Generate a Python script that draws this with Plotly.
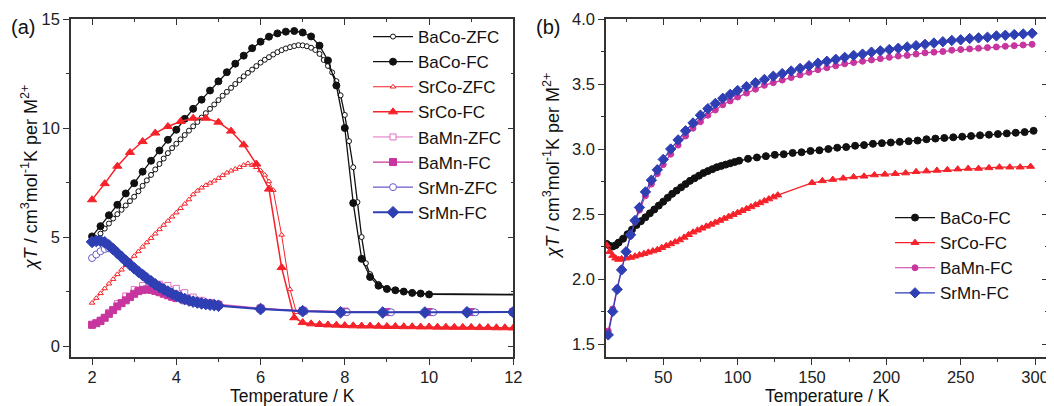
import plotly.graph_objects as go

# ---------------- Panel (a): low temperature ZFC/FC ----------------
baco_fc_T = [2.0, 2.2, 2.4, 2.6, 2.8, 3.0, 3.2, 3.4, 3.6, 3.8, 4.0, 4.2, 4.4, 4.6, 4.8, 5.0,
             5.2, 5.4, 5.6, 5.8, 6.0, 6.2, 6.4, 6.6, 6.8, 7.0, 7.2, 7.4, 7.6, 7.8, 8.0, 8.2,
             8.4, 8.6, 8.8, 9.0, 9.2, 9.4, 9.6, 9.8, 10.0, 14.0]
baco_fc_y = [5.03, 5.5, 6.0, 6.48, 7.0, 7.47, 8.0, 8.5, 8.97, 9.46, 9.92, 10.42, 10.88, 11.3, 11.72, 12.14,
             12.56, 12.95, 13.32, 13.66, 13.96, 14.19, 14.34, 14.42, 14.45, 14.38, 14.2, 13.78, 13.1, 11.95, 10.0, 6.56,
             4.0, 3.17, 2.77, 2.62, 2.56, 2.5, 2.44, 2.41, 2.37, 2.33]

baco_zfc_T = [2.0, 2.1, 2.2, 2.3, 2.4, 2.5, 2.6, 2.7, 2.8, 2.9, 3.0, 3.1, 3.2, 3.3, 3.4, 3.5,
              3.6, 3.7, 3.8, 3.9, 4.0, 4.1, 4.2, 4.3, 4.4, 4.5, 4.6, 4.7, 4.8, 4.9, 5.0, 5.1,
              5.2, 5.3, 5.4, 5.5, 5.6, 5.7, 5.8, 5.9, 6.0, 6.1, 6.2, 6.3, 6.4, 6.5, 6.6, 6.7,
              6.8, 6.9, 7.0, 7.1, 7.2, 7.3, 7.4, 7.5, 7.6, 7.7, 7.8, 7.9, 8.0, 8.1, 8.2, 8.3,
              8.4, 8.5, 8.6, 8.8, 9.0, 9.2, 9.4, 9.6, 9.8, 10.0, 14.0]
baco_zfc_y = [4.7, 4.93, 5.16, 5.39, 5.62, 5.85, 6.05, 6.25, 6.45, 6.65, 6.85, 7.1, 7.35, 7.6, 7.85, 8.1,
              8.35, 8.6, 8.85, 9.08, 9.28, 9.48, 9.68, 9.88, 10.08, 10.28, 10.48, 10.68, 10.88, 11.08, 11.28, 11.48,
              11.66, 11.84, 12.02, 12.2, 12.37, 12.53, 12.68, 12.84, 13.0, 13.13, 13.25, 13.37, 13.48, 13.57, 13.65, 13.71,
              13.76, 13.8, 13.79, 13.75, 13.68, 13.58, 13.4, 13.12, 12.85, 12.55, 12.15, 11.5, 10.6, 9.4, 8.2, 6.6,
              5.0, 3.8, 3.3, 2.85, 2.65, 2.56, 2.5, 2.45, 2.42, 2.4, 2.35]

srco_fc_T = [2.0, 2.3, 2.6, 2.9, 3.2, 3.5, 3.8, 4.1, 4.4, 4.7, 5.0, 5.3, 5.6, 5.9, 6.2, 6.5,
             6.8, 7.0, 7.2, 7.4, 7.6, 7.8, 8.0, 8.2, 8.4, 8.6, 8.8, 9.0, 9.2, 9.4, 9.6, 9.8,
             10.0, 10.2, 10.4, 10.6, 10.8, 11.0, 11.2, 11.4, 11.6, 11.8, 12.0]
srco_fc_y = [6.71, 7.45, 8.25, 8.88, 9.38, 9.77, 10.07, 10.3, 10.45, 10.45, 10.27, 9.86, 9.23, 8.35, 7.2, 3.6,
             1.3, 1.08, 1.02, 0.99, 0.97, 0.96, 0.94, 0.93, 0.92, 0.92, 0.91, 0.9, 0.9, 0.89, 0.89, 0.88,
             0.88, 0.87, 0.87, 0.86, 0.86, 0.86, 0.85, 0.85, 0.84, 0.84, 0.83]

srco_zfc_T = [2.0, 2.1, 2.2, 2.3, 2.4, 2.5, 2.6, 2.7, 2.8, 2.9, 3.0, 3.1, 3.2, 3.3, 3.4, 3.5,
              3.6, 3.7, 3.8, 3.9, 4.0, 4.1, 4.2, 4.3, 4.4, 4.5, 4.6, 4.7, 4.8, 4.9, 5.0, 5.1,
              5.2, 5.3, 5.4, 5.5, 5.6, 5.7, 5.8, 5.9, 6.0, 6.1, 6.2, 6.3, 6.5, 6.7, 6.85]
srco_zfc_y = [1.98, 2.2, 2.42, 2.64, 2.86, 3.07, 3.29, 3.5, 3.71, 3.92, 4.13, 4.34, 4.55, 4.75, 4.95, 5.15,
              5.35, 5.55, 5.74, 5.93, 6.12, 6.32, 6.52, 6.72, 6.95, 7.12, 7.26, 7.38, 7.48, 7.58, 7.7, 7.83,
              7.95, 8.04, 8.12, 8.2, 8.3, 8.38, 8.3, 8.2, 8.05, 7.85, 7.55, 7.15, 5.1, 2.6, 1.55]

bamn_zfc_T = [2.0, 2.2, 2.4, 2.6, 2.8, 3.0, 3.2, 3.4, 3.6, 3.8, 4.0, 4.2, 4.4, 4.6, 4.8, 5.0,
              6.0, 7.0, 8.0, 9.0, 10.0, 11.0, 12.0]
bamn_zfc_y = [0.95, 1.2, 1.55, 1.95, 2.3, 2.6, 2.78, 2.85, 2.84, 2.78, 2.65, 2.45, 2.25, 2.1, 2.0, 1.93,
              1.74, 1.63, 1.58, 1.56, 1.56, 1.56, 1.57]

bamn_fc_T = [2.0, 2.1, 2.2, 2.3, 2.4, 2.5, 2.6, 2.7, 2.8, 2.9, 3.0, 3.1, 3.2, 3.3, 3.4, 3.5,
             3.6, 3.7, 3.8, 3.9, 4.0, 4.2, 4.4, 4.6, 4.8, 5.0, 6.0, 7.0, 8.0, 9.0, 10.0, 11.0, 12.0]
bamn_fc_y = [0.98, 1.05, 1.15, 1.3, 1.48, 1.65, 1.82, 1.97, 2.1, 2.25, 2.4, 2.52, 2.58, 2.6, 2.58, 2.53,
             2.47, 2.4, 2.33, 2.26, 2.2, 2.1, 2.03, 1.97, 1.92, 1.88, 1.72, 1.62, 1.58, 1.56, 1.56, 1.56, 1.57]

srmn_zfc_T = [2.0, 2.1, 2.2, 2.3, 2.4, 2.5, 2.6, 2.8, 3.0, 3.2, 3.4, 3.6, 3.8, 4.0, 4.2, 4.4,
              4.6, 4.8, 5.0, 6.0, 7.05, 8.05, 9.1, 10.1, 11.1, 12.0]
srmn_zfc_y = [4.04, 4.2, 4.35, 4.45, 4.48, 4.4, 4.25, 3.93, 3.6, 3.3, 3.0, 2.74, 2.53, 2.34, 2.19, 2.07,
              1.98, 1.92, 1.87, 1.71, 1.6, 1.56, 1.55, 1.55, 1.55, 1.56]

srmn_fc_T = [2.0, 2.1, 2.2, 2.3, 2.4, 2.5, 2.6, 2.7, 2.8, 2.9, 3.0, 3.1, 3.2, 3.3, 3.4, 3.5,
             3.6, 3.7, 3.8, 3.9, 4.0, 4.1, 4.2, 4.3, 4.4, 4.5, 4.6, 4.7, 4.8, 4.9, 5.0,
             6.0, 7.0, 7.9, 8.9, 9.9, 10.9, 12.0]
srmn_fc_y = [4.78, 4.82, 4.82, 4.76, 4.62, 4.45, 4.27, 4.09, 3.91, 3.74, 3.57, 3.41, 3.26, 3.11, 2.97, 2.83,
             2.71, 2.6, 2.5, 2.4, 2.31, 2.23, 2.16, 2.09, 2.04, 2.0, 1.96, 1.93, 1.9, 1.88, 1.85,
             1.7, 1.6, 1.55, 1.54, 1.54, 1.55, 1.56]

# ---------------- Panel (b): FC 2-300 K ----------------
r_baco_T = [12, 14, 16, 18, 20, 23, 26, 29, 32, 35, 38, 41, 44, 47, 50, 53, 56, 59, 62, 65, 68, 71,
            74, 77, 80, 83, 86, 89, 92, 95, 98, 101, 107, 113, 119, 125, 131, 137, 143, 149, 155,
            161, 167, 173, 179, 185, 191, 197, 203, 209, 215, 221, 227, 233, 239, 245, 251, 257,
            263, 269, 275, 281, 287, 293, 299]
r_baco_y = [2.27, 2.255, 2.25, 2.26, 2.28, 2.31, 2.345, 2.38, 2.415, 2.445, 2.475, 2.505, 2.535, 2.565,
            2.595, 2.625, 2.655, 2.68, 2.705, 2.73, 2.755, 2.775, 2.795, 2.815, 2.83, 2.845, 2.86, 2.87,
            2.88, 2.89, 2.9, 2.91, 2.925, 2.935, 2.945, 2.955, 2.96, 2.97, 2.975, 2.985, 2.99, 3.0,
            3.01, 3.015, 3.025, 3.03, 3.04, 3.045, 3.05, 3.055, 3.06, 3.065, 3.075, 3.08, 3.085, 3.09,
            3.095, 3.1, 3.105, 3.11, 3.115, 3.12, 3.125, 3.13, 3.14]

r_srco_T = [12, 14, 16, 18, 20, 22, 25, 28, 31, 34, 37, 40, 43, 46, 49, 52, 55, 58, 61, 64, 67, 70,
            73, 76, 79, 82, 85, 88, 91, 94, 97, 100, 103, 106, 109, 112, 115, 118, 121, 124, 127,
            150, 157, 164, 171, 178, 185, 192, 199, 206, 213, 220, 227, 234, 241, 248, 255, 262,
            269, 276, 283, 290, 297]
r_srco_y = [2.26, 2.21, 2.18, 2.16, 2.15, 2.155, 2.16, 2.165, 2.175, 2.185, 2.195, 2.205, 2.215, 2.225,
            2.24, 2.255, 2.27, 2.285, 2.3, 2.32, 2.34, 2.36, 2.375, 2.39, 2.405, 2.42, 2.435, 2.45,
            2.465, 2.48, 2.495, 2.51, 2.525, 2.54, 2.555, 2.57, 2.585, 2.6, 2.615, 2.63, 2.645,
            2.74, 2.755, 2.765, 2.775, 2.785, 2.79, 2.8, 2.805, 2.81, 2.815, 2.825, 2.83, 2.835,
            2.84, 2.845, 2.85, 2.85, 2.855, 2.86, 2.86, 2.86, 2.865]

r_bamn_T = [13, 16, 19, 22, 25, 28, 31, 34, 38, 42, 46, 50, 55, 60, 65, 70, 75, 80, 85, 90, 95, 100,
            106, 112, 118, 124, 130, 136, 142, 148, 154, 160, 166, 172, 178, 184, 190, 196, 202,
            208, 214, 220, 226, 232, 238, 244, 250, 256, 262, 268, 274, 280, 286, 292, 298]
r_bamn_y = [1.6, 1.77, 1.93, 2.08, 2.21, 2.33, 2.44, 2.53, 2.64, 2.73, 2.81, 2.88, 2.96, 3.03, 3.1,
            3.16, 3.21, 3.26, 3.3, 3.34, 3.37, 3.4, 3.43, 3.46, 3.49, 3.51, 3.53, 3.55, 3.57, 3.59,
            3.61, 3.625, 3.64, 3.655, 3.665, 3.675, 3.685, 3.695, 3.705, 3.715, 3.72, 3.73, 3.74,
            3.745, 3.75, 3.76, 3.765, 3.77, 3.775, 3.78, 3.785, 3.79, 3.795, 3.8, 3.805]

r_srmn_T = [13, 16, 19, 22, 25, 28, 31, 34, 38, 42, 46, 50, 55, 60, 65, 70, 75, 80, 85, 90, 95, 100,
            106, 112, 118, 124, 130, 136, 142, 148, 154, 160, 166, 172, 178, 184, 190, 196, 202,
            208, 214, 220, 226, 232, 238, 244, 250, 256, 262, 268, 274, 280, 286, 292, 298]
r_srmn_y = [1.57, 1.75, 1.92, 2.07, 2.21, 2.34, 2.45, 2.55, 2.67, 2.76, 2.84, 2.92, 3.0, 3.07, 3.14,
            3.2, 3.26, 3.31, 3.35, 3.39, 3.42, 3.45, 3.48, 3.51, 3.535, 3.56, 3.58, 3.6, 3.62, 3.64,
            3.66, 3.675, 3.69, 3.705, 3.72, 3.73, 3.745, 3.755, 3.765, 3.775, 3.785, 3.795, 3.805,
            3.815, 3.825, 3.835, 3.84, 3.85, 3.855, 3.86, 3.87, 3.875, 3.88, 3.885, 3.89]

BLACK = "#111111"
RED = "#F5222A"
PINK = "#E070C0"
MAGENTA = "#C8359E"
PURPLE = "#6A5ACD"
BLUE = "#2E3FB4"
FONT = "Liberation Sans, Arial, sans-serif"

fig = go.Figure()


def add(name, T, y, color, symbol, size, fill, lw, xa, ya, legend):
    fig.add_trace(go.Scatter(
        x=T, y=y, name=name, mode="lines+markers", xaxis=xa, yaxis=ya, legend=legend,
        line=dict(color=color, width=lw),
        marker=dict(symbol=symbol, size=size, color=fill,
                    line=dict(color=color, width=1)),
        cliponaxis=True, hoverinfo="skip"))


# panel (a)
add("BaCo-ZFC", baco_zfc_T, baco_zfc_y, BLACK, "circle", 5, "white", 1.3, "x", "y", "legend")
add("BaCo-FC", baco_fc_T, baco_fc_y, BLACK, "circle", 7, BLACK, 1.3, "x", "y", "legend")
add("SrCo-ZFC", srco_zfc_T, srco_zfc_y, RED, "triangle-up", 5, "white", 1.0, "x", "y", "legend")
add("SrCo-FC", srco_fc_T, srco_fc_y, RED, "triangle-up", 8, RED, 1.5, "x", "y", "legend")
add("BaMn-ZFC", bamn_zfc_T, bamn_zfc_y, PINK, "square", 6, "white", 1.0, "x", "y", "legend")
add("BaMn-FC", bamn_fc_T, bamn_fc_y, MAGENTA, "square", 7, MAGENTA, 1.2, "x", "y", "legend")
add("SrMn-ZFC", srmn_zfc_T, srmn_zfc_y, PURPLE, "circle", 7, "white", 1.2, "x", "y", "legend")
add("SrMn-FC", srmn_fc_T, srmn_fc_y, BLUE, "diamond", 9, BLUE, 2.0, "x", "y", "legend")

# panel (b)
add("BaCo-FC", r_baco_T, r_baco_y, BLACK, "circle", 7, BLACK, 1.3, "x2", "y2", "legend2")
add("SrCo-FC", r_srco_T, r_srco_y, RED, "triangle-up", 7, RED, 1.3, "x2", "y2", "legend2")
add("BaMn-FC", r_bamn_T, r_bamn_y, MAGENTA, "circle", 6, MAGENTA, 1.2, "x2", "y2", "legend2")
add("SrMn-FC", r_srmn_T, r_srmn_y, BLUE, "diamond", 8, BLUE, 1.2, "x2", "y2", "legend2")

# dummy traces so overlay (top/right inside-tick) axes render
for xa, ya in (("x3", "y3"), ("x4", "y4")):
    fig.add_trace(go.Scatter(x=[None], y=[None], xaxis=xa, yaxis=ya, showlegend=False,
                             hoverinfo="skip", mode="markers"))

# page body has an 8px margin, so the figure is offset by (8, 8) in the window
OFF = 8
W, H = 1054 - OFF, 406 - OFF
L, R, T, B = 71 - OFF, 6, 19 - OFF, 49
pw = W - L - R
ph = H - T - B


def px_x(px):
    return (px - OFF - L) / pw


def px_y(py):
    return 1 - (py - OFF - T) / ph


d1 = [px_x(71), px_x(513.3)]
d2 = [px_x(606), px_x(1048)]
AX = "#333333"
tickfont = dict(family=FONT, size=16.5, color="#222222")


def mainax(rng, dtick, mdtick, domain, anchor, standoff=0, **kw):
    d = dict(range=rng, anchor=anchor, dtick=dtick, tick0=0,
             showline=True, linecolor=AX, linewidth=1.5, showgrid=False, zeroline=False,
             ticks="outside", ticklen=6, tickwidth=1.3, tickcolor=AX, tickfont=tickfont,
             ticklabelstandoff=standoff,
             minor=dict(dtick=mdtick, ticks="outside", ticklen=3, tickwidth=1.2, tickcolor=AX,
                        showgrid=False), **kw)
    if domain is not None:
        d["domain"] = domain
    return d


def mirrorax(rng, dtick, mdtick, domain, anchor, over, side):
    d = dict(range=rng, anchor=anchor, overlaying=over, side=side,
             dtick=dtick, tick0=0, showline=True, linecolor=AX, linewidth=1.5,
             showgrid=False, zeroline=False, ticks="inside", ticklen=6, tickwidth=1.3,
             tickcolor=AX, showticklabels=False,
             minor=dict(dtick=mdtick, ticks="inside", ticklen=3, tickwidth=1.2, tickcolor=AX,
                        showgrid=False))
    if domain is not None:
        d["domain"] = domain
    return d


legfont = dict(family=FONT, size=17, color="#111111")

fig.update_layout(
    width=W, height=H, margin=dict(l=L, r=R, t=T, b=B, autoexpand=False),
    paper_bgcolor="white", plot_bgcolor="white",
    font=dict(family=FONT, color="#111111"),
    xaxis=mainax([1.5, 12], 2, 1, d1, "y", standoff=-2),
    yaxis=mainax([-0.5, 15], 5, 2.5, None, "x"),
    xaxis2=mainax([11.5, 308.7], 50, 25, d2, "y2", standoff=-2),
    yaxis2=mainax([1.4, 4.0], 0.5, 0.25, None, "x2", tickformat=".1f"),
    xaxis3=mirrorax([1.5, 12], 2, 1, d1, "y", "x", "top"),
    yaxis3=mirrorax([-0.5, 15], 5, 2.5, None, "x", "y", "right"),
    xaxis4=mirrorax([11.5, 308.7], 50, 25, d2, "y2", "x2", "top"),
    yaxis4=mirrorax([1.4, 4.0], 0.5, 0.25, None, "x2", "y2", "right"),
    legend=dict(x=px_x(368), y=px_y(19), xanchor="left", yanchor="top",
                font=legfont, bgcolor="rgba(0,0,0,0)", borderwidth=0, tracegroupgap=0,
                itemsizing="trace", itemwidth=40),
    legend2=dict(x=px_x(890), y=px_y(200), xanchor="left", yanchor="top",
                 font=legfont, bgcolor="rgba(0,0,0,0)", borderwidth=0, tracegroupgap=0,
                 itemsizing="trace", itemwidth=40),
    showlegend=True,
)

ytitle = "<i>χT</i> / cm<sup>3</sup>mol<sup>-1</sup>K per M<sup>2+</sup>"
ann = [
    dict(text="(a)", x=px_x(23), y=px_y(27), size=20),
    dict(text="(b)", x=px_x(548), y=px_y(27), size=20),
    dict(text="Temperature / K", x=px_x(292), y=px_y(396), size=17.5),
    dict(text="Temperature / K", x=px_x(827), y=px_y(396), size=17.5),
    dict(text=ytitle, x=px_x(29), y=px_y(178), textangle=-90, size=18),
    dict(text=ytitle, x=px_x(551), y=px_y(166), textangle=-90, size=18),
]
for a in ann:
    size = a.pop("size")
    fig.add_annotation(xref="paper", yref="paper", showarrow=False, xanchor="center",
                       yanchor="middle", font=dict(family=FONT, size=size, color="#111111"), **a)

fig.write_html("out.html")
